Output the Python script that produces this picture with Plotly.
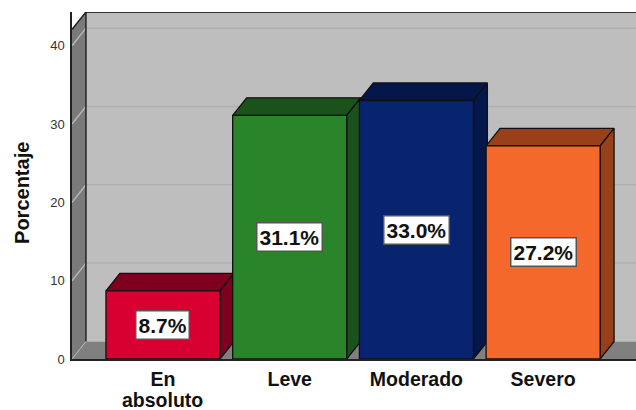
import plotly.graph_objects as go

# Values
categories = ["En absoluto", "Leve", "Moderado", "Severo"]
label_lines = [["En", "absoluto"], ["Leve"], ["Moderado"], ["Severo"]]
percentages = [8.7, 31.1, 33.0, 27.2]
y_ticks = [0, 10, 20, 30, 40]

front_colors = ["#D70030", "#2A852A", "#08246E", "#F4692B"]
shade_colors = ["#7F001E", "#1B521B", "#04164A", "#97401A"]

# Fake 3D depth, in axis units
BAR_WIDTH = 0.9
DEPTH_X = 0.11
DEPTH_Y = 2.24
X_RANGE = [-0.718, 3.733]
Y_RANGE = [0, 44.3]
LEFT, RIGHT = X_RANGE
TOP = Y_RANGE[1]


def polygon(xs, ys, color, line_color="#111111", name=None):
    return go.Scatter(
        x=xs + xs[:1], y=ys + ys[:1], mode="lines", fill="toself", fillcolor=color,
        line=dict(color=line_color, width=1.3), hoverinfo="skip" if name is None else "text",
        text=name, showlegend=False,
    )


fig = go.Figure()

# Left wall, floor and back wall
wall_shapes = [
    dict(type="rect", x0=LEFT + DEPTH_X, x1=RIGHT, y0=DEPTH_Y, y1=TOP,
         fillcolor="#BEBEBE", line_width=0),
    dict(type="path", fillcolor="#7A7A7A", line_width=0,
         path=f"M {LEFT} 0 L {LEFT + DEPTH_X} {DEPTH_Y} L {LEFT + DEPTH_X} {TOP} L {LEFT} {TOP - DEPTH_Y} Z"),
    dict(type="path", fillcolor="#808080", line_width=0,
         path=f"M {LEFT} 0 L {LEFT + DEPTH_X} {DEPTH_Y} L {RIGHT} {DEPTH_Y} L {RIGHT} 0 Z"),
]
for tick in y_ticks[1:]:
    wall_shapes.append(dict(type="line", x0=LEFT + DEPTH_X, x1=RIGHT, y0=tick + DEPTH_Y, y1=tick + DEPTH_Y,
                            line=dict(color="#B0B0B0", width=1.5)))
    wall_shapes.append(dict(type="line", x0=LEFT, x1=LEFT + DEPTH_X, y0=tick, y1=tick + DEPTH_Y,
                            line=dict(color="#B5B5B5", width=1.5)))
wall_shapes += [
    dict(type="line", x0=LEFT + DEPTH_X, x1=RIGHT, y0=TOP, y1=TOP, line=dict(color="#333333", width=2)),
    dict(type="line", x0=LEFT + DEPTH_X, x1=LEFT + DEPTH_X, y0=DEPTH_Y, y1=TOP, line=dict(color="#222222", width=1.5)),
    dict(type="line", x0=LEFT, x1=LEFT + DEPTH_X, y0=TOP - DEPTH_Y, y1=TOP, line=dict(color="#222222", width=1.5)),
    dict(type="line", x0=LEFT, x1=LEFT + DEPTH_X, y0=0, y1=DEPTH_Y, line=dict(color="#B5B5B5", width=1)),
]
for shape in wall_shapes:
    shape["layer"] = "below"

# Bars, left to right so each front covers the previous side face
for i, value in enumerate(percentages):
    left = i - BAR_WIDTH / 2
    right = i + BAR_WIDTH / 2
    fig.add_trace(polygon([left, left + DEPTH_X, right + DEPTH_X, right],
                          [value, value + DEPTH_Y, value + DEPTH_Y, value], shade_colors[i]))
    fig.add_trace(polygon([right, right + DEPTH_X, right + DEPTH_X, right],
                          [0, DEPTH_Y, value + DEPTH_Y, value], shade_colors[i]))
    fig.add_trace(polygon([left, right, right, left], [0, 0, value, value], front_colors[i],
                          name=f"{categories[i]}: {value}%"))

# Value boxes
annotations = [
    dict(x=i, y=value / 2, text=f"{value}%", showarrow=False,
         font=dict(family="Liberation Sans", size=21, color="#111111", weight="bold"),
         bgcolor="white", bordercolor="#555555", borderwidth=1.5, borderpad=2)
    for i, value in enumerate(percentages)
]

# Second lines of the category labels, tighter than Plotly's own <br> spacing
for i, lines in enumerate(label_lines):
    for n, line in enumerate(lines[1:], start=1):
        annotations.append(dict(x=i, y=0, yanchor="top", text=line, showarrow=False, yshift=-28 - 20 * (n - 1),
                                font=dict(family="Liberation Sans", size=19.5, color="#111111", weight="bold")))

# Axis title sits lower than Plotly would centre it, so it is placed by hand
annotations.append(dict(xref="paper", x=0, xanchor="center", xshift=-50, y=21.2, text="Porcentaje", textangle=-90,
                        showarrow=False, font=dict(family="Liberation Sans", size=20, color="#111111", weight="bold")))

fig.update_layout(
    width=636, height=410,
    margin=dict(l=72, r=0, t=12, b=51),
    paper_bgcolor="white", plot_bgcolor="white",
    font=dict(family="Liberation Sans", color="#333333"),
    shapes=wall_shapes,
    annotations=annotations,
    showlegend=False,
)
fig.update_xaxes(
    range=X_RANGE, tickmode="array", tickvals=list(range(len(categories))),
    ticktext=[lines[0] for lines in label_lines],
    tickfont=dict(size=19.5, color="#111111", weight="bold"),
    showgrid=False, zeroline=False, showline=True, linecolor="#222222", linewidth=1.5,
    ticks="outside", ticklen=2, tickcolor="white",
)
fig.update_yaxes(
    range=Y_RANGE, tickmode="array", tickvals=y_ticks,
    tickfont=dict(size=13, color="#333333"),
    showgrid=False, zeroline=False, showline=True, linecolor="#222222", linewidth=1.5,
    ticks="outside", ticklen=3, tickcolor="white",
)

fig.write_html("out.html", config=dict(displayModeBar=False),
               post_script="document.body.style.margin = '0';")
